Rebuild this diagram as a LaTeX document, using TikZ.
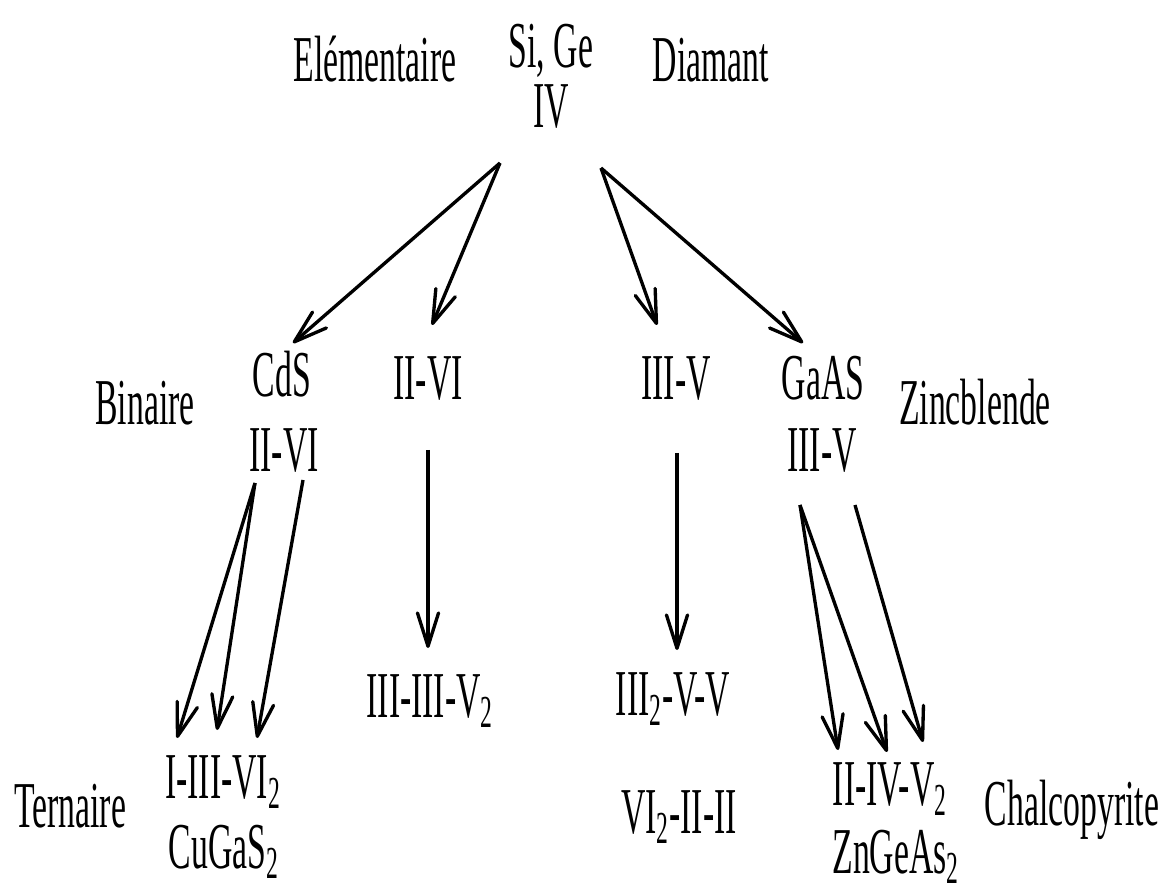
\documentclass[tikz,border=0pt]{standalone}
\usepackage{fontspec}
\setmainfont{Liberation Serif}
\usetikzlibrary{arrows.meta}

\begin{document}
\begin{tikzpicture}[
    x=0.02cm, y=-0.02cm,
    lbl/.style={inner sep=0pt, anchor=base, yscale=1.94,
      font=\fontsize{19.2}{23}\selectfont},
    arr/.style={-{Straight Barb[length=19pt, width=12pt, round]}, line width=1.9pt},
  ]
  \useasboundingbox (0,0) rectangle (1170,891);

  % ========= TOP: elementaire =========
  \node[lbl] (sige) at (551,68) {Si, Ge};
  \node[lbl] (iv) at (551,128) {IV};
  \node[lbl] (elem) at (375,82) {Elémentaire};
  \node[lbl] (diam) at (711,82) {Diamant};

  % ========= MIDDLE: binaire =========
  \node[lbl] (bin) at (145,425) {Binaire};
  \node[lbl] (cds) at (282,397) {CdS};
  \node[lbl] (cdsg) at (284,472) {II-VI};
  \node[lbl] (iivi) at (428,400) {II-VI};
  \node[lbl] (iiiv) at (676,400) {III-V};
  \node[lbl] (gaas) at (823,400) {GaAS};
  \node[lbl] (gaasg) at (822,472) {III-V};
  \node[lbl] (zinc) at (975,425) {Zincblende};

  % ========= BOTTOM: ternaire =========
  \node[lbl] (ter) at (70,827) {Ternaire};
  \node[lbl] (ivi) at (223,798) {I-III-VI\textsubscript{2}};
  \node[lbl] (cugas) at (224,868) {CuGaS\textsubscript{2}};
  \node[lbl] (iiiiv) at (430,717) {III-III-V\textsubscript{2}};
  \node[lbl] (iiivv) at (673,715) {III\textsubscript{2}-V-V};
  \node[lbl] (viii) at (679,833) {VI\textsubscript{2}-II-II};
  \node[lbl] (iiivv2) at (890,805) {II-IV-V\textsubscript{2}};
  \node[lbl] (zngeas) at (896,873) {ZnGeAs\textsubscript{2}};
  \node[lbl] (chalco) at (1072,825) {Chalcopyrite};

  % Arrows from IV
  \draw[arr] ([shift={(-51,35)}]iv.base) -- ([shift={(11,-54)}]cds.base);
  \draw[arr] ([shift={(-51,35)}]iv.base) -- ([shift={(4,-75)}]iivi.base);
  \draw[arr] ([shift={(50,40)}]iv.base) -- ([shift={(-19,-75)}]iiiv.base);
  \draw[arr] ([shift={(50,40)}]iv.base) -- ([shift={(-20,-57)}]gaas.base);

  % Straight down
  \draw[arr] ([shift={(0,50)}]iivi.base) -- ([shift={(-2,-69)}]iiiiv.base);
  \draw[arr] ([shift={(1,53)}]iiiv.base) -- ([shift={(4,-65)}]iiivv.base);

  % Towards the chalcopyrites
  \draw[arr] ([shift={(-29,11)}]cdsg.base) -- ([shift={(-46,-60)}]ivi.base);
  \draw[arr] ([shift={(-29,11)}]cdsg.base) -- ([shift={(-6,-68)}]ivi.base);
  \draw[arr] ([shift={(19,8)}]cdsg.base) -- ([shift={(34,-60)}]ivi.base);
  \draw[arr] ([shift={(-22,33)}]gaasg.base) -- ([shift={(-52,-55)}]iiivv2.base);
  \draw[arr] ([shift={(-22,33)}]gaasg.base) -- ([shift={(-3,-53)}]iiivv2.base);
  \draw[arr] ([shift={(33,33)}]gaasg.base) -- ([shift={(33,-63)}]iiivv2.base);
\end{tikzpicture}
\end{document}
